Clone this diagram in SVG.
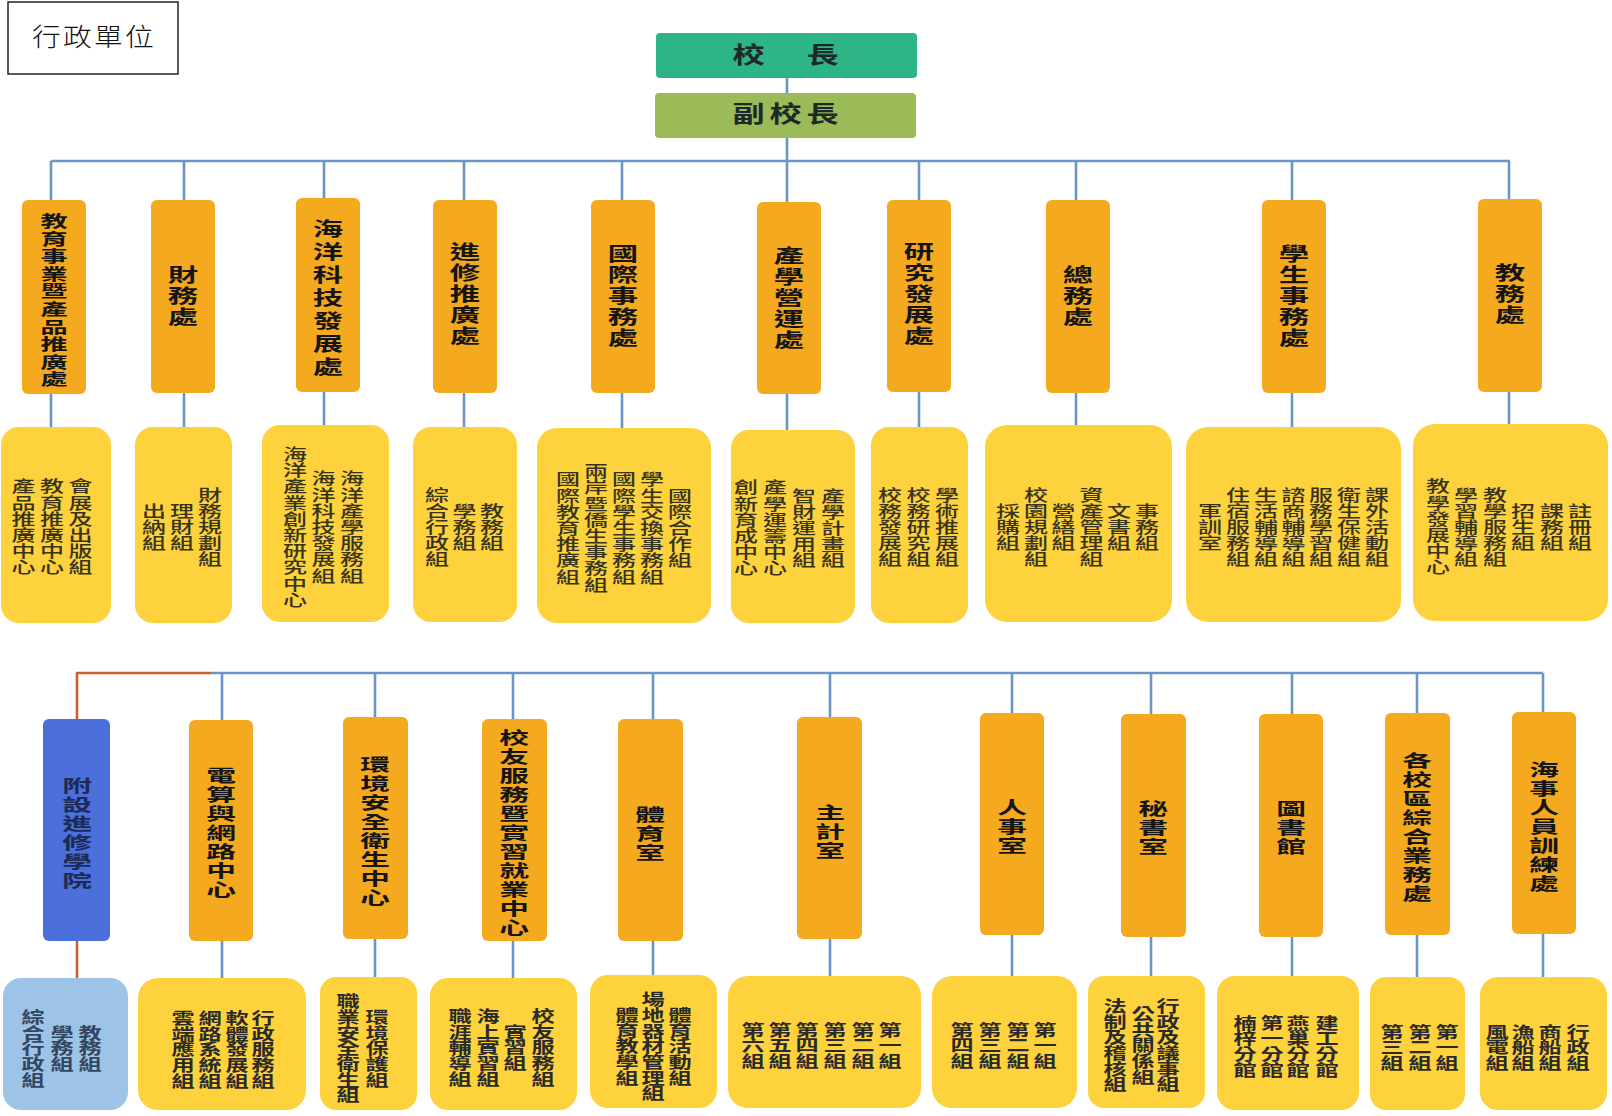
<svg xmlns="http://www.w3.org/2000/svg" width="1612" height="1116" viewBox="0 0 1612 1116">
<style>
.ln{fill:none;stroke:#6B95C3;stroke-width:2.6}
.lo{fill:none;stroke:#C7642E;stroke-width:2.6}
.hb{fill:#F4A91F}
.sb{fill:#FDD23C}
.t{font-family:"Noto Sans CJK TC","Noto Sans CJK SC",sans-serif;writing-mode:vertical-rl;text-anchor:middle}
.h1{font-size:19px;font-weight:bold;letter-spacing:2px;fill:#151515}
.h2{font-size:17.5px;font-weight:bold;letter-spacing:1.5px;fill:#151515}
.s1{font-size:16px;font-weight:500;letter-spacing:0.2px;fill:#38341c}
.s2{font-size:16px;font-weight:bold;letter-spacing:-0.3px;fill:#2a2a2a}
.top{font-family:"Noto Sans CJK TC",sans-serif;font-size:23px;font-weight:bold;text-anchor:middle;letter-spacing:3.4px;fill:#1b2a28}
</style>
<rect width="1612" height="1116" fill="#ffffff"/>

<g id="connectors">
  <path class="ln" d="M787 78V430 M51 161H1510 M51 161V427 M184 161V427 M324 161V425 M464 161V427 M622 161V428 M919 161V427 M1076 161V425 M1292 161V427 M1509 161V424"/>
  <path class="lo" d="M211 673H77V978"/>
  <path class="ln" d="M211 673H1543 M222 673V978 M375 673V977 M513 673V978 M653 673V975 M830 673V976 M1012 673V976 M1151 673V976 M1292 673V976 M1417 673V977 M1543 673V977"/>
</g>

<g id="title">
  <rect x="8" y="2" width="170" height="72" fill="#ffffff" stroke="#222222" stroke-width="1.5"/>
  <text x="0" y="0" transform="translate(94 46) scale(1.15 1)" font-family="'Noto Sans CJK TC',sans-serif" font-weight="300" font-size="25" letter-spacing="2" text-anchor="middle" fill="#111">行政單位</text>
</g>

<g id="president">
  <rect x="656" y="33" width="261" height="45" rx="4" fill="#2EB587"/>
  <text class="top" x="0" y="0" transform="translate(788 62.8) scale(1.4 1)">校　長</text>
</g>
<g id="vice-president">
  <rect x="655" y="93" width="261" height="45" rx="4" fill="#9BBB59"/>
  <text class="top" x="0" y="0" transform="translate(788 122.3) scale(1.4 1)">副校長</text>
</g>

<!-- Row 1 headers -->
<g id="h-edu-business"><rect class="hb" x="22" y="200" width="64" height="194" rx="6"/><text class="t h1" x="0" y="0" style="font-size:16px;letter-spacing:1.6px" transform="translate(54 301) scale(1.7 1)">教育事業暨產品推廣處</text></g>
<g id="h-finance"><rect class="hb" x="151" y="200" width="64" height="193" rx="6"/><text class="t h1" x="0" y="0" transform="translate(183 297) scale(1.6 1)">財務處</text></g>
<g id="h-ocean-tech"><rect class="hb" x="296" y="198" width="64" height="194" rx="6"/><text class="t h1" x="0" y="0" style="letter-spacing:4px" transform="translate(328 299.5) scale(1.6 1)">海洋科技發展處</text></g>
<g id="h-extension"><rect class="hb" x="433" y="200" width="64" height="193" rx="6"/><text class="t h1" x="0" y="0" transform="translate(465 295) scale(1.6 1)">進修推廣處</text></g>
<g id="h-international"><rect class="hb" x="591" y="200" width="64" height="193" rx="6"/><text class="t h1" x="0" y="0" transform="translate(623 297) scale(1.6 1)">國際事務處</text></g>
<g id="h-industry"><rect class="hb" x="757" y="202" width="64" height="192" rx="6"/><text class="t h1" x="0" y="0" transform="translate(789 299) scale(1.6 1)">產學營運處</text></g>
<g id="h-research"><rect class="hb" x="887" y="200" width="64" height="192" rx="6"/><text class="t h1" x="0" y="0" transform="translate(919 295) scale(1.6 1)">研究發展處</text></g>
<g id="h-general"><rect class="hb" x="1046" y="200" width="64" height="193" rx="6"/><text class="t h1" x="0" y="0" transform="translate(1078 297) scale(1.6 1)">總務處</text></g>
<g id="h-student"><rect class="hb" x="1262" y="200" width="64" height="193" rx="6"/><text class="t h1" x="0" y="0" transform="translate(1294 297) scale(1.6 1)">學生事務處</text></g>
<g id="h-academic"><rect class="hb" x="1478" y="199" width="64" height="193" rx="6"/><text class="t h1" x="0" y="0" transform="translate(1510 295) scale(1.6 1)">教務處</text></g>

<!-- Row 1 sub boxes -->
<g id="s-edu-business"><rect class="sb" x="1" y="427" width="110" height="196" rx="18"/>
  <text class="t s1" transform="translate(80.5 527) scale(1.5 1)">會展及出版組</text>
  <text class="t s1" transform="translate(52 527) scale(1.5 1)">教育推廣中心</text>
  <text class="t s1" transform="translate(23.5 527) scale(1.5 1)">產品推廣中心</text></g>
<g id="s-finance"><rect class="sb" x="135" y="427" width="97" height="196" rx="18"/>
  <text class="t s1" transform="translate(210 527) scale(1.5 1)">財務規劃組</text>
  <text class="t s1" transform="translate(182 527) scale(1.5 1)">理財組</text>
  <text class="t s1" transform="translate(154 527) scale(1.5 1)">出納組</text></g>
<g id="s-ocean-tech"><rect class="sb" x="262" y="425" width="127" height="197" rx="18"/>
  <text class="t s1" transform="translate(352 527) scale(1.5 1)">海洋產學服務組</text>
  <text class="t s1" transform="translate(323.5 527) scale(1.5 1)">海洋科技發展組</text>
  <text class="t s1" transform="translate(295 527) scale(1.5 1)">海洋產業創新研究中心</text></g>
<g id="s-extension"><rect class="sb" x="413" y="427" width="104" height="195" rx="18"/>
  <text class="t s1" transform="translate(492 527) scale(1.5 1)">教務組</text>
  <text class="t s1" transform="translate(464.5 527) scale(1.5 1)">學務組</text>
  <text class="t s1" transform="translate(437 527) scale(1.5 1)">綜合行政組</text></g>
<g id="s-international"><rect class="sb" x="537" y="428" width="174" height="195" rx="20"/>
  <text class="t s1" transform="translate(680 528) scale(1.5 1)">國際合作組</text>
  <text class="t s1" transform="translate(652 528) scale(1.5 1)">學生交換事務組</text>
  <text class="t s1" transform="translate(624 528) scale(1.5 1)">國際學生事務組</text>
  <text class="t s1" transform="translate(596 528) scale(1.5 1)">兩岸暨僑生事務組</text>
  <text class="t s1" transform="translate(568 528) scale(1.5 1)">國際教育推廣組</text></g>
<g id="s-industry"><rect class="sb" x="731" y="430" width="124" height="193" rx="18"/>
  <text class="t s1" transform="translate(833 528) scale(1.5 1)">產學計畫組</text>
  <text class="t s1" transform="translate(804 528) scale(1.5 1)">智財運用組</text>
  <text class="t s1" transform="translate(775 528) scale(1.5 1)">產學運籌中心</text>
  <text class="t s1" transform="translate(746 528) scale(1.5 1)">創新育成中心</text></g>
<g id="s-research"><rect class="sb" x="871" y="427" width="97" height="196" rx="18"/>
  <text class="t s1" transform="translate(947 527) scale(1.5 1)">學術推展組</text>
  <text class="t s1" transform="translate(918.5 527) scale(1.5 1)">校務研究組</text>
  <text class="t s1" transform="translate(890 527) scale(1.5 1)">校務發展組</text></g>
<g id="s-general"><rect class="sb" x="985" y="425" width="187" height="197" rx="22"/>
  <text class="t s1" transform="translate(1147 527) scale(1.5 1)">事務組</text>
  <text class="t s1" transform="translate(1119 527) scale(1.5 1)">文書組</text>
  <text class="t s1" transform="translate(1091.5 527) scale(1.5 1)">資產管理組</text>
  <text class="t s1" transform="translate(1063.5 527) scale(1.5 1)">營繕組</text>
  <text class="t s1" transform="translate(1036 527) scale(1.5 1)">校園規劃組</text>
  <text class="t s1" transform="translate(1008 527) scale(1.5 1)">採購組</text></g>
<g id="s-student"><rect class="sb" x="1186" y="427" width="215" height="195" rx="22"/>
  <text class="t s1" transform="translate(1377 527) scale(1.5 1)">課外活動組</text>
  <text class="t s1" transform="translate(1349 527) scale(1.5 1)">衛生保健組</text>
  <text class="t s1" transform="translate(1321 527) scale(1.5 1)">服務學習組</text>
  <text class="t s1" transform="translate(1293.5 527) scale(1.5 1)">諮商輔導組</text>
  <text class="t s1" transform="translate(1266 527) scale(1.5 1)">生活輔導組</text>
  <text class="t s1" transform="translate(1238 527) scale(1.5 1)">住宿服務組</text>
  <text class="t s1" transform="translate(1210 527) scale(1.5 1)">軍訓室</text></g>
<g id="s-academic"><rect class="sb" x="1413" y="424" width="195" height="197" rx="22"/>
  <text class="t s1" transform="translate(1580 527) scale(1.5 1)">註冊組</text>
  <text class="t s1" transform="translate(1552 527) scale(1.5 1)">課務組</text>
  <text class="t s1" transform="translate(1523 527) scale(1.5 1)">招生組</text>
  <text class="t s1" transform="translate(1495 527) scale(1.5 1)">教學服務組</text>
  <text class="t s1" transform="translate(1466 527) scale(1.5 1)">學習輔導組</text>
  <text class="t s1" transform="translate(1438 527) scale(1.5 1)">教學發展中心</text></g>

<!-- Row 2 headers -->
<g id="h-continuing-college"><rect x="43" y="719" width="67" height="222" rx="6" fill="#4B6FDB"/><text class="t h2" x="0" y="0" style="fill:#1d2a55" transform="translate(77 834) scale(1.7 1)">附設進修學院</text></g>
<g id="h-computer"><rect class="hb" x="189" y="720" width="64" height="221" rx="6"/><text class="t h2" x="0" y="0" transform="translate(221 833) scale(1.7 1)">電算與網路中心</text></g>
<g id="h-safety"><rect class="hb" x="343" y="717" width="65" height="222" rx="6"/><text class="t h2" x="0" y="0" transform="translate(375 832) scale(1.7 1)">環境安全衛生中心</text></g>
<g id="h-alumni"><rect class="hb" x="482" y="719" width="65" height="222" rx="6"/><text class="t h2" x="0" y="0" transform="translate(514 833) scale(1.7 1)">校友服務暨實習就業中心</text></g>
<g id="h-sports"><rect class="hb" x="618" y="719" width="65" height="222" rx="6"/><text class="t h2" x="0" y="0" transform="translate(650 834) scale(1.7 1)">體育室</text></g>
<g id="h-accounting"><rect class="hb" x="797" y="717" width="65" height="222" rx="6"/><text class="t h2" x="0" y="0" transform="translate(830 832) scale(1.7 1)">主計室</text></g>
<g id="h-personnel"><rect class="hb" x="980" y="713" width="64" height="222" rx="6"/><text class="t h2" x="0" y="0" transform="translate(1012 827) scale(1.7 1)">人事室</text></g>
<g id="h-secretariat"><rect class="hb" x="1121" y="714" width="65" height="223" rx="6"/><text class="t h2" x="0" y="0" transform="translate(1153 828) scale(1.7 1)">秘書室</text></g>
<g id="h-library"><rect class="hb" x="1259" y="714" width="64" height="223" rx="6"/><text class="t h2" x="0" y="0" transform="translate(1291 828) scale(1.7 1)">圖書館</text></g>
<g id="h-campus"><rect class="hb" x="1385" y="713" width="65" height="222" rx="6"/><text class="t h2" x="0" y="0" transform="translate(1417 828) scale(1.7 1)">各校區綜合業務處</text></g>
<g id="h-maritime"><rect class="hb" x="1512" y="712" width="64" height="222" rx="6"/><text class="t h2" x="0" y="0" transform="translate(1544 827) scale(1.7 1)">海事人員訓練處</text></g>

<!-- Row 2 sub boxes -->
<g id="s-continuing-college"><rect x="3" y="978" width="125" height="132" rx="18" fill="#9DC3E6"/>
  <text class="t s2" style="fill:#34455f" transform="translate(90 1048) scale(1.45 1)">教務組</text>
  <text class="t s2" style="fill:#34455f" transform="translate(62 1048) scale(1.45 1)">學務組</text>
  <text class="t s2" style="fill:#34455f" transform="translate(33 1048) scale(1.45 1)">綜合行政組</text></g>
<g id="s-computer"><rect class="sb" x="138" y="978" width="168" height="132" rx="20"/>
  <text class="t s2" transform="translate(263 1049) scale(1.45 1)">行政服務組</text>
  <text class="t s2" transform="translate(237 1049) scale(1.45 1)">軟體發展組</text>
  <text class="t s2" transform="translate(210 1049) scale(1.45 1)">網路系統組</text>
  <text class="t s2" transform="translate(183 1049) scale(1.45 1)">雲端應用組</text></g>
<g id="s-safety"><rect class="sb" x="320" y="977" width="97" height="133" rx="16"/>
  <text class="t s2" transform="translate(377 1048) scale(1.45 1)">環境保護組</text>
  <text class="t s2" transform="translate(348 1048) scale(1.45 1)">職業安全衛生組</text></g>
<g id="s-alumni"><rect class="sb" x="430" y="978" width="147" height="132" rx="18"/>
  <text class="t s2" transform="translate(543 1047) scale(1.45 1)">校友服務組</text>
  <text class="t s2" transform="translate(515 1047) scale(1.45 1)">實習組</text>
  <text class="t s2" transform="translate(488 1047) scale(1.45 1)">海上實習組</text>
  <text class="t s2" transform="translate(460 1047) scale(1.45 1)">職涯輔導組</text></g>
<g id="s-sports"><rect class="sb" x="590" y="975" width="127" height="133" rx="18"/>
  <text class="t s2" transform="translate(680 1046) scale(1.45 1)">體育活動組</text>
  <text class="t s2" transform="translate(653 1046) scale(1.45 1)">場地器材管理組</text>
  <text class="t s2" transform="translate(627 1046) scale(1.45 1)">體育教學組</text></g>
<g id="s-accounting"><rect class="sb" x="728" y="976" width="193" height="132" rx="20"/>
  <text class="t s2" transform="translate(890 1045) scale(1.45 1)">第一組</text>
  <text class="t s2" transform="translate(863 1045) scale(1.45 1)">第二組</text>
  <text class="t s2" transform="translate(835 1045) scale(1.45 1)">第三組</text>
  <text class="t s2" transform="translate(807 1045) scale(1.45 1)">第四組</text>
  <text class="t s2" transform="translate(780 1045) scale(1.45 1)">第五組</text>
  <text class="t s2" transform="translate(753 1045) scale(1.45 1)">第六組</text></g>
<g id="s-personnel"><rect class="sb" x="932" y="976" width="145" height="132" rx="20"/>
  <text class="t s2" transform="translate(1045 1045) scale(1.45 1)">第一組</text>
  <text class="t s2" transform="translate(1018 1045) scale(1.45 1)">第二組</text>
  <text class="t s2" transform="translate(990 1045) scale(1.45 1)">第三組</text>
  <text class="t s2" transform="translate(962 1045) scale(1.45 1)">第四組</text></g>
<g id="s-secretariat"><rect class="sb" x="1088" y="976" width="117" height="132" rx="16"/>
  <text class="t s2" transform="translate(1168 1045) scale(1.45 1)">行政及議事組</text>
  <text class="t s2" transform="translate(1143 1045) scale(1.45 1)">公共關係組</text>
  <text class="t s2" transform="translate(1115 1045) scale(1.45 1)">法制及稽核組</text></g>
<g id="s-library"><rect class="sb" x="1217" y="976" width="142" height="134" rx="18"/>
  <text class="t s2" transform="translate(1327 1046) scale(1.45 1)">建工分館</text>
  <text class="t s2" transform="translate(1298 1046) scale(1.45 1)">燕巢分館</text>
  <text class="t s2" transform="translate(1272 1046) scale(1.45 1)">第一分館</text>
  <text class="t s2" transform="translate(1245 1046) scale(1.45 1)">楠梓分館</text></g>
<g id="s-campus"><rect class="sb" x="1370" y="977" width="95" height="133" rx="16"/>
  <text class="t s2" transform="translate(1447 1047) scale(1.45 1)">第一組</text>
  <text class="t s2" transform="translate(1420 1047) scale(1.45 1)">第二組</text>
  <text class="t s2" transform="translate(1392 1047) scale(1.45 1)">第三組</text></g>
<g id="s-maritime"><rect class="sb" x="1480" y="977" width="127" height="133" rx="18"/>
  <text class="t s2" transform="translate(1578 1047) scale(1.45 1)">行政組</text>
  <text class="t s2" transform="translate(1550 1047) scale(1.45 1)">商船組</text>
  <text class="t s2" transform="translate(1523 1047) scale(1.45 1)">漁船組</text>
  <text class="t s2" transform="translate(1497 1047) scale(1.45 1)">風電組</text></g>
</svg>
